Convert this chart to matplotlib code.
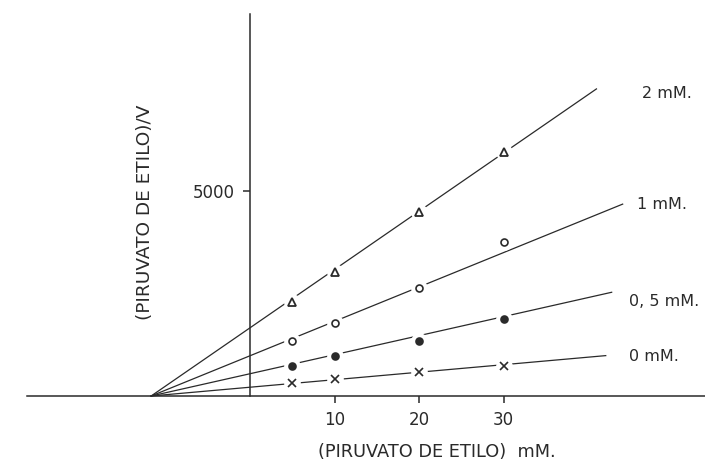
import numpy as np
import matplotlib
matplotlib.use('Agg')
import matplotlib.pyplot as plt

# Hanes-Woolf plot: [S]/v against [S] at several inhibitor levels
conc = [5, 10, 20, 30]  # (piruvato de etilo) mM
y_2mM = [2300, 3020, 4480, 5960]
y_1mM = [1350, 1790, 2630, 3750]
y_05mM = [740, 975, 1350, 1870]
y_0mM = [310, 415, 590, 730]

x_cross = -11.7  # common intersection on the x axis
end_x = [41.0, 44.1, 42.8, 42.1]
end_y = [7490, 4680, 2530, 985]

labels = ['2 mM.', '1 mM.', '0, 5 mM.', '0 mM.']
label_pos = [(642, 93), (637, 204), (629, 301), (629, 356)]  # pixels
markers = ['^', 'o', 'o', 'x']
filled = [False, False, True, False]
series = [y_2mM, y_1mM, y_05mM, y_0mM]

W, H = 705, 465
fig = plt.figure(figsize=(W/100, H/100), dpi=100)
ax = fig.add_axes([0, 0, 1, 1])

# pixel -> data mapping
x0_px, px_per_x = 250, 8.45
y0_px, px_per_y = 396, 0.041
ax.set_xlim(-x0_px/px_per_x, (W - x0_px)/px_per_x)
ax.set_ylim(-(H - y0_px)/px_per_y, y0_px/px_per_y)

ink = '#2a2a2a'
for s in ['top', 'right']:
    ax.spines[s].set_visible(False)
ax.spines['left'].set_position(('data', 0))
ax.spines['bottom'].set_position(('data', 0))
ax.spines['left'].set_bounds(0, (y0_px - 14)/px_per_y)
ax.spines['bottom'].set_bounds((27 - x0_px)/px_per_x, (W - x0_px)/px_per_x)
for s in ['left', 'bottom']:
    ax.spines[s].set_color(ink)
    ax.spines[s].set_linewidth(1.1)

ax.set_xticks([10, 20, 30])
ax.set_yticks([5000])
ax.tick_params(direction='out', length=5, width=1.1, color=ink,
               labelsize=12, labelcolor=ink, pad=6)
ax.patch.set_alpha(0)

for ys, ex, ey, m, f in zip(series, end_x, end_y, markers, filled):
    ax.plot([x_cross, ex], [0, ey], color=ink, lw=0.9, zorder=2)
    # white halo so the line breaks around each point
    ax.plot(conc, ys, ls='none', marker='o', ms=11, mfc='white', mec='white', zorder=3)
    if m == 'x':
        ax.plot(conc, ys, ls='none', marker='x', ms=6, mew=1.2, color=ink, zorder=4)
    elif m == '^':
        ax.plot(conc, ys, ls='none', marker='^', ms=5.5, mfc='white', mec=ink, mew=1.3, zorder=4)
    else:
        ax.plot(conc, ys, ls='none', marker='o', ms=5, mfc=ink if f else 'white',
                mec=ink, mew=1.2, zorder=4)

for lab, (px, py) in zip(labels, label_pos):
    fig.text(px/W, 1 - py/H, lab, fontsize=11.5, color=ink, va='center', ha='left')

fig.text(145/W, 1 - 212/H, '(PIRUVATO DE ETILO)/V', rotation=90, fontsize=13.3,
         color=ink, ha='center', va='center')
fig.text(437/W, 1 - 452/H, '(PIRUVATO DE ETILO)  mM.', fontsize=12.8,
         color=ink, ha='center', va='center')

fig.savefig('out.png', dpi=100)
